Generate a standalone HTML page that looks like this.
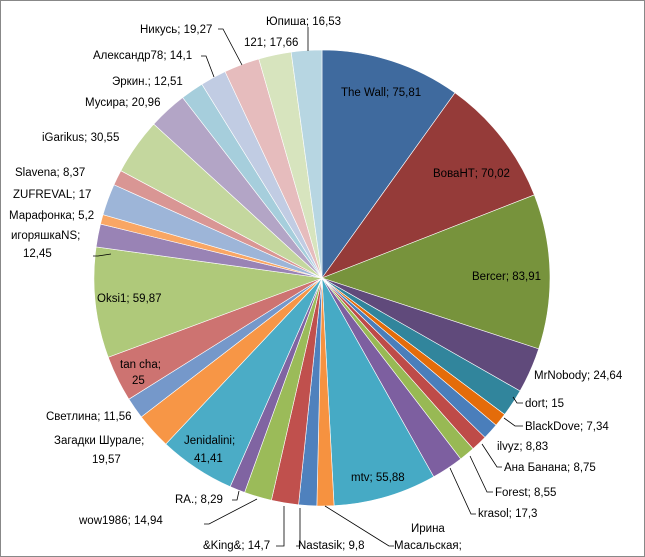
<!DOCTYPE html>
<html><head><meta charset="utf-8"><style>
html,body{margin:0;padding:0;background:#fff}
#c{position:relative;width:643px;height:555px;border:1px solid #888;overflow:hidden}
svg text{font-family:"Liberation Sans","DejaVu Sans",sans-serif;font-size:11.5px;fill:#000}
</style></head><body><div id="c">
<svg id="s" width="643" height="555" xmlns="http://www.w3.org/2000/svg"></svg>
</div>
<script>
var d=[
[75.81,"#3F6A9E"],[70.02,"#953B39"],[83.91,"#77933C"],[24.64,"#604A7B"],[15,"#31859C"],[7.34,"#E46C0A"],
[8.83,"#4A7EBB"],[8.75,"#BE4B48"],[8.55,"#98B954"],[17.3,"#7D5FA0"],[55.88,"#46AAC5"],[9.2,"#F69240"],
[9.8,"#4F81BD"],[14.7,"#C0504D"],[14.94,"#9BBB59"],[8.29,"#8064A2"],[41.41,"#4BACC6"],[19.57,"#F79646"],
[11.56,"#7598CA"],[25,"#CD7371"],[59.87,"#AFC97A"],[12.45,"#9983B5"],[5.2,"#F9A664"],[17,"#9DB5D8"],
[8.37,"#D99694"],[30.55,"#C4D79E"],[20.96,"#B3A5C6"],[12.51,"#A6CEDC"],[14.1,"#C1CCE3"],[19.27,"#E6BCBD"],
[17.66,"#D7E4BE"],[16.53,"#B7D6E2"]];
var T=0;d.forEach(function(x){T+=x[0]});
var cx=321,cy=277,r=228,a=0,h='';
function pt(t){return [cx+r*Math.sin(t),cy-r*Math.cos(t)];}
d.forEach(function(x){
 var a2=a+x[0]/T*2*Math.PI,p1=pt(a),p2=pt(a2),l=(a2-a)>Math.PI?1:0;
 h+='<path d="M'+cx+','+cy+'L'+p1[0].toFixed(2)+','+p1[1].toFixed(2)+'A'+r+','+r+' 0 '+l+' 1 '+p2[0].toFixed(2)+','+p2[1].toFixed(2)+'Z" fill="'+x[1]+'" stroke="#fff" stroke-width="0.6"/>';
 a=a2;});
var L=[
[340,95,"The Wall; 75,81"],[432,176,"ВоваНТ; 70,02"],[471,279,"Bercer; 83,91"],[533,378,"MrNobody; 24,64"],
[524,406,"dort; 15"],[524,429,"BlackDove; 7,34"],[496,449,"ilvyz; 8,83"],[503,470,"Ана Банана; 8,75"],
[494,495,"Forest; 8,55"],[477,516,"krasol; 17,3"],[350,480,"mtv; 55,88"],[410,531,"Ирина"],[393,548,"Масальская;"],
[297,548,"Nastasik; 9,8"],[202,548,"&King&; 14,7"],[78,523,"wow1986; 14,94"],[174,502,"RA.; 8,29"],
[183,443,"Jenidalini;"],[193,461,"41,41"],[53,443,"Загадки Шурале;"],[91,462,"19,57"],[45,419,"Светлина; 11,56"],
[119,367,"tan cha;"],[131,383,"25"],[96,301,"Oksi1; 59,87"],[10,238,"игоряшкаNS;"],[22,256,"12,45"],
[8,218,"Марафонка; 5,2"],[12,197,"ZUFREVAL;  17"],[14,175,"Slavena; 8,37"],[41,140,"iGarikus; 30,55"],
[84,105,"Мусира; 20,96"],[111,84,"Эркин.; 12,51"],[92,58,"Александр78; 14,1"],[139,32,"Никусь; 19,27"],
[243,45,"121; 17,66"],[265,24,"Юпиша;  16,53"]];
L.forEach(function(t){h+='<text x="'+t[0]+'" y="'+t[1]+'">'+t[2]+'</text>';});
var ln=["307,26 307,50","217,28 222,28 241,64","200,55 205,55 213,76",
"522,402 516,402 512,396","522,425 514,425 503,417",
"501,466 496,466 481,443","492,491 486,491 469,455","475,513 470,513 449,467",
"231,499 236,499 238,490","203,523 208,523 256,498","275,545 283,545 283,505","295,545 299,545 299,507","324,505 388,545 393,545","92,255 97,255 110,253"];
ln.forEach(function(p){h+='<polyline points="'+p+'" fill="none" stroke="#000" stroke-width="0.8"/>';});
document.getElementById('s').innerHTML=h;
</script></body></html>
